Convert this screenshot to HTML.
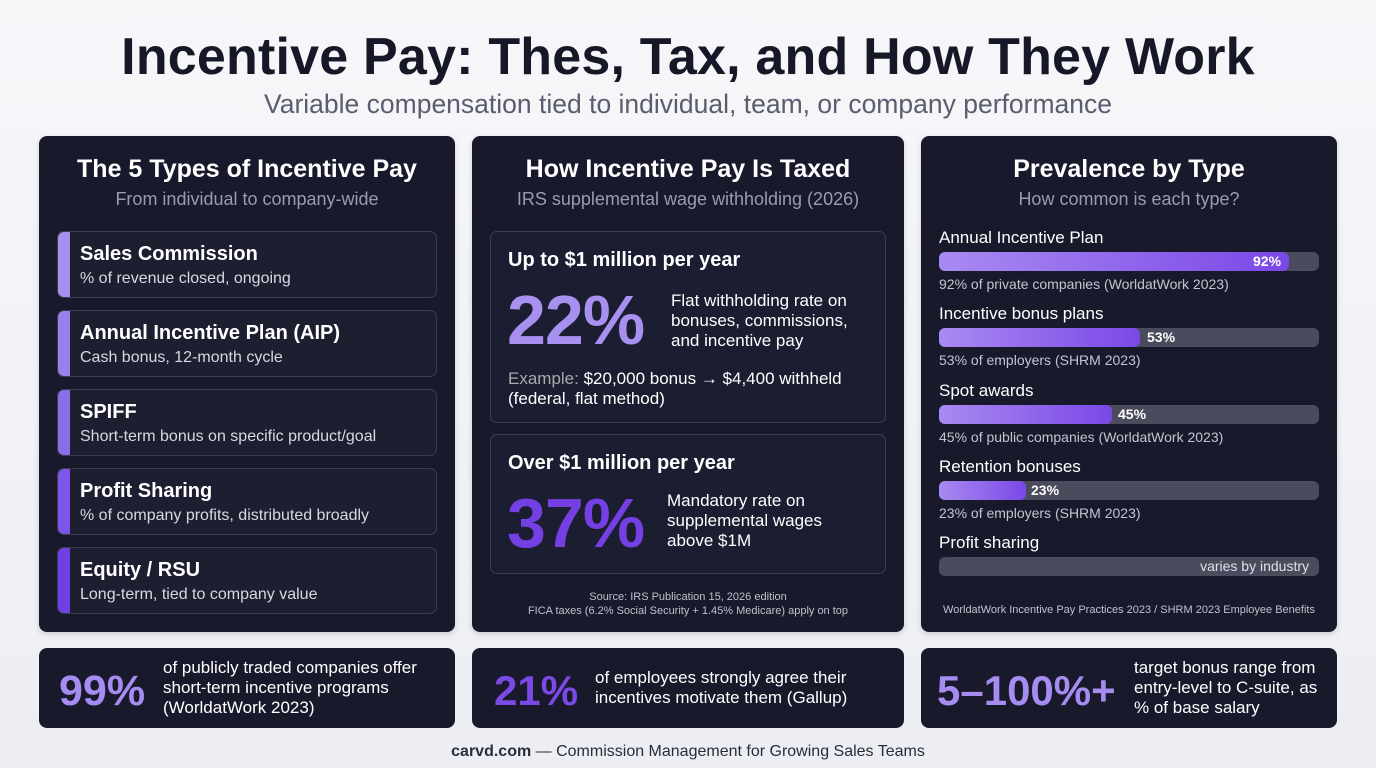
<!DOCTYPE html>
<html><head><meta charset="utf-8"><style>
*{margin:0;padding:0;box-sizing:border-box}
body{width:1376px;height:768px;overflow:hidden;background:linear-gradient(180deg,#f7f7fa,#eceef3);font-family:"Liberation Sans",sans-serif;position:relative;color:#fff}
.a{position:absolute}
.panel{position:absolute;background:#181a2c;border-radius:8px;box-shadow:0 2px 6px rgba(0,0,0,.15)}
.ph{position:absolute;left:0;right:0;text-align:center;font-weight:bold;font-size:25px;color:#fff}
.ps{position:absolute;left:0;right:0;text-align:center;font-size:18px;color:#9a9cae}
.card{position:absolute;left:18px;width:380px;height:67px;border:1px solid #3a3c52;border-radius:7px;background:#1d1f31;overflow:hidden}
.card .bar{position:absolute;left:0;top:0;bottom:0;width:12px}
.card .t{position:absolute;left:22px;top:11px;font-weight:bold;font-size:20px}
.card .d{position:absolute;left:22px;top:38px;font-size:16px;color:#d8d8e2}
.box{position:absolute;left:18px;width:396px;border:1px solid #3a3c52;border-radius:7px;background:#1b1d30}
.lab{position:absolute;left:18px;font-size:17px;color:#fff}
.track{position:absolute;left:18px;width:380px;height:19px;border-radius:6px;background:#4a4b5c}
.fill{position:absolute;left:0;top:0;bottom:0;border-radius:6px;background:linear-gradient(90deg,#a98af2,#7a48e6)}
.pct{position:absolute;top:1px;font-weight:bold;font-size:14px;color:#fff}
.src{position:absolute;left:18px;font-size:14px;color:#c4c4d0}
.bot{position:absolute;top:648px;height:80px;background:#181a2c;border-radius:8px}
.big{position:absolute;font-weight:bold;color:#a48af0}
.bt{position:absolute;font-size:17px;line-height:20px;color:#fff}
</style></head><body>
<div class="a" style="left:0;right:0;top:27px;text-align:center;font-weight:bold;font-size:52px;color:#161827;letter-spacing:0.2px">Incentive Pay: Thes, Tax, and How They Work</div>
<div class="a" style="left:0;right:0;top:89px;text-align:center;font-size:26.5px;color:#5a5d6e">Variable compensation tied to individual, team, or company performance</div>

<div class="panel" style="left:39px;top:136px;width:416px;height:496px">
 <div class="ph" style="top:19px">The 5 Types of Incentive Pay</div>
 <div class="ps" style="top:53px">From individual to company-wide</div>
 <div class="card" style="top:95px"><div class="bar" style="background:#a590ec"></div><div class="t">Sales Commission</div><div class="d">% of revenue closed, ongoing</div></div>
 <div class="card" style="top:174px"><div class="bar" style="background:#9a80ec"></div><div class="t">Annual Incentive Plan (AIP)</div><div class="d">Cash bonus, 12-month cycle</div></div>
 <div class="card" style="top:253px"><div class="bar" style="background:#8c6ce8"></div><div class="t">SPIFF</div><div class="d">Short-term bonus on specific product/goal</div></div>
 <div class="card" style="top:332px"><div class="bar" style="background:#7c56e6"></div><div class="t">Profit Sharing</div><div class="d">% of company profits, distributed broadly</div></div>
 <div class="card" style="top:411px"><div class="bar" style="background:#6e40e2"></div><div class="t">Equity / RSU</div><div class="d">Long-term, tied to company value</div></div>
</div>

<div class="panel" style="left:472px;top:136px;width:432px;height:496px">
 <div class="ph" style="top:19px">How Incentive Pay Is Taxed</div>
 <div class="ps" style="top:53px">IRS supplemental wage withholding (2026)</div>
 <div class="box" style="top:95px;height:192px">
  <div class="a" style="left:17px;top:17px;font-weight:bold;font-size:20px">Up to $1 million per year</div>
  <div class="a" style="left:16px;top:48px;font-weight:bold;font-size:70px;color:#a890f0;letter-spacing:-1px">22%</div>
  <div class="a" style="left:180px;top:59px;font-size:17px;line-height:20px">Flat withholding rate on<br>bonuses, commissions,<br>and incentive pay</div>
  <div class="a" style="left:17px;top:137px;font-size:17px;line-height:20px"><span style="color:#aaa">Example:</span> $20,000 bonus → $4,400 withheld<br>(federal, flat method)</div>
 </div>
 <div class="box" style="top:298px;height:140px">
  <div class="a" style="left:17px;top:17px;font-weight:bold;font-size:20px">Over $1 million per year</div>
  <div class="a" style="left:16px;top:48px;font-weight:bold;font-size:70px;color:#7440e4;letter-spacing:-1px">37%</div>
  <div class="a" style="left:176px;top:56px;font-size:17px;line-height:20px">Mandatory rate on<br>supplemental wages<br>above $1M</div>
 </div>
 <div class="a" style="left:0;right:0;top:454px;text-align:center;font-size:11px;line-height:14px;color:#c0c0cc">Source: IRS Publication 15, 2026 edition<br>FICA taxes (6.2% Social Security + 1.45% Medicare) apply on top</div>
</div>

<div class="panel" style="left:921px;top:136px;width:416px;height:496px">
 <div class="ph" style="top:19px">Prevalence by Type</div>
 <div class="ps" style="top:53px">How common is each type?</div>
 <div class="lab" style="top:92px">Annual Incentive Plan</div>
 <div class="track" style="top:116px"><div class="fill" style="width:350px"></div><div class="pct" style="left:314px">92%</div></div>
 <div class="src" style="top:140px">92% of private companies (WorldatWork 2023)</div>
 <div class="lab" style="top:168px">Incentive bonus plans</div>
 <div class="track" style="top:192px"><div class="fill" style="width:201px"></div><div class="pct" style="left:208px">53%</div></div>
 <div class="src" style="top:216px">53% of employers (SHRM 2023)</div>
 <div class="lab" style="top:245px">Spot awards</div>
 <div class="track" style="top:269px"><div class="fill" style="width:173px"></div><div class="pct" style="left:179px">45%</div></div>
 <div class="src" style="top:293px">45% of public companies (WorldatWork 2023)</div>
 <div class="lab" style="top:321px">Retention bonuses</div>
 <div class="track" style="top:345px"><div class="fill" style="width:87px"></div><div class="pct" style="left:92px">23%</div></div>
 <div class="src" style="top:369px">23% of employers (SHRM 2023)</div>
 <div class="lab" style="top:397px">Profit sharing</div>
 <div class="track" style="top:421px"><div class="a" style="right:10px;top:1px;font-size:14px;color:#e0e0e8">varies by industry</div></div>
 <div class="a" style="left:0;right:0;top:468px;text-align:center;font-size:11px;color:#c0c0cc">WorldatWork Incentive Pay Practices 2023 / SHRM 2023 Employee Benefits</div>
</div>

<div class="bot" style="left:39px;width:416px"><div class="big" style="left:20px;top:19px;font-size:43px;color:#a68cf0">99%</div><div class="bt" style="left:124px;top:10px">of publicly traded companies offer<br>short-term incentive programs<br>(WorldatWork 2023)</div></div>
<div class="bot" style="left:472px;width:432px"><div class="big" style="left:22px;top:19px;font-size:42px;color:#7b4ae6">21%</div><div class="bt" style="left:123px;top:20px">of employees strongly agree their<br>incentives motivate them (Gallup)</div></div>
<div class="bot" style="left:921px;width:416px"><div class="big" style="left:16px;top:19px;font-size:42px;color:#a68cf0">5–100%+</div><div class="bt" style="left:213px;top:10px">target bonus range from<br>entry-level to C-suite, as<br>% of base salary</div></div>

<div class="a" style="left:0;right:0;top:743px;text-align:center;font-size:16px;color:#2a2c3a"><b>carvd.com</b> — Commission Management for Growing Sales Teams</div>
</body></html>
